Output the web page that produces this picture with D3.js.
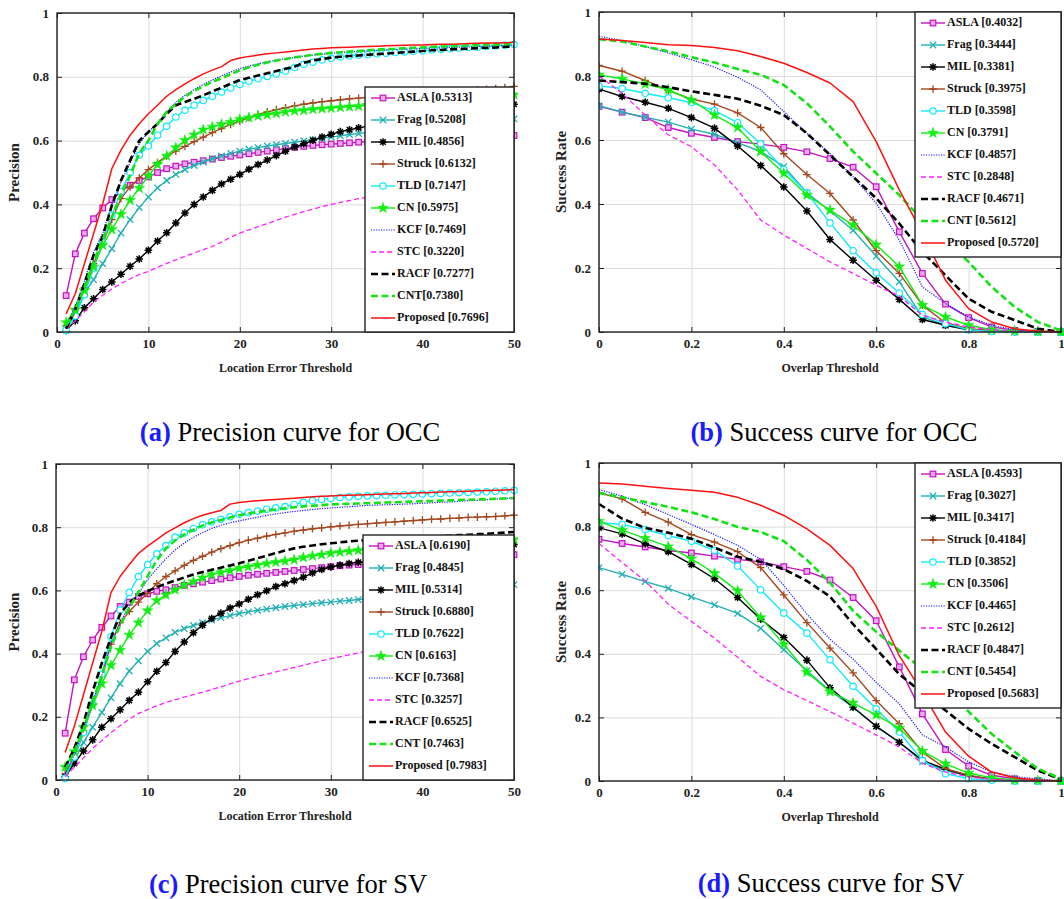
<!DOCTYPE html>
<html><head><meta charset="utf-8">
<script src="https://cdn.jsdelivr.net/npm/d3@7"></script>
<style>body{margin:0;background:#fff}svg{display:block}</style>
</head><body>
<svg id="c" width="1064" height="899"></svg>
<script>
// ---------------- data ----------------
const methods = ["ASLA","Frag","MIL","Struck","TLD","CN","KCF","STC","RACF","CNT","Proposed"];
const precThresholds = [1,2,3,4,5,6,7,8,9,10,11,12,13,14,15,16,17,18,19,20,21,22,23,24,25,26,27,28,29,30,31,32,33,34,35,36,37,38,39,40,41,42,43,44,45,46,47,48,49,50];
const succThresholds = [0,0.05,0.1,0.15,0.2,0.25,0.3,0.35,0.4,0.45,0.5,0.55,0.6,0.65,0.7,0.75,0.8,0.85,0.9,0.95,1];
const precXTicks = [0,10,20,30,40,50];
const succXTicks = [0,0.2,0.4,0.6,0.8,1];
const yTicks = [0,0.2,0.4,0.6,0.8,1];

const legendA = ["ASLA [0.5313]","Frag [0.5208]","MIL [0.4856]","Struck [0.6132]","TLD [0.7147]","CN [0.5975]","KCF [0.7469]","STC [0.3220]","RACF [0.7277]","CNT[0.7380]","Proposed [0.7696]"];
const legendB = ["ASLA [0.4032]","Frag [0.3444]","MIL [0.3381]","Struck [0.3975]","TLD [0.3598]","CN [0.3791]","KCF [0.4857]","STC [0.2848]","RACF [0.4671]","CNT [0.5612]","Proposed [0.5720]"];
const legendC = ["ASLA [0.6190]","Frag [0.4845]","MIL [0.5314]","Struck [0.6880]","TLD [0.7622]","CN [0.6163]","KCF [0.7368]","STC [0.3257]","RACF [0.6525]","CNT [0.7463]","Proposed [0.7983]"];
const legendD = ["ASLA [0.4593]","Frag [0.3027]","MIL [0.3417]","Struck [0.4184]","TLD [0.3852]","CN [0.3506]","KCF [0.4465]","STC [0.2612]","RACF [0.4847]","CNT [0.5454]","Proposed [0.5683]"];

// (a) precision, OCC
const pOccASLA = [0.114,0.245,0.31,0.355,0.389,0.415,0.44,0.46,0.475,0.486,0.50,0.512,0.52,0.527,0.532,0.537,0.542,0.547,0.551,0.555,0.559,0.563,0.567,0.571,0.575,0.579,0.582,0.585,0.587,0.589,0.591,0.593,0.595,0.597,0.598,0.6,0.601,0.603,0.604,0.605,0.606,0.607,0.608,0.609,0.61,0.611,0.612,0.613,0.614,0.616];
const pOccFrag = [0.01,0.057,0.12,0.164,0.214,0.261,0.31,0.352,0.39,0.423,0.452,0.475,0.494,0.509,0.522,0.533,0.543,0.552,0.56,0.567,0.573,0.578,0.583,0.587,0.591,0.595,0.599,0.603,0.607,0.611,0.615,0.619,0.622,0.626,0.629,0.632,0.635,0.638,0.641,0.644,0.647,0.649,0.652,0.654,0.657,0.659,0.661,0.664,0.666,0.668];
const pOccMIL = [0.005,0.035,0.076,0.104,0.133,0.157,0.181,0.206,0.229,0.256,0.285,0.311,0.342,0.373,0.40,0.423,0.444,0.464,0.479,0.494,0.51,0.525,0.539,0.553,0.567,0.58,0.59,0.601,0.611,0.62,0.628,0.634,0.64,0.645,0.65,0.655,0.66,0.665,0.669,0.673,0.677,0.681,0.685,0.689,0.693,0.697,0.701,0.705,0.71,0.714];
const pOccStruck = [0.02,0.07,0.14,0.214,0.277,0.352,0.418,0.455,0.483,0.509,0.531,0.552,0.567,0.582,0.597,0.611,0.625,0.638,0.651,0.661,0.672,0.682,0.69,0.697,0.703,0.709,0.714,0.718,0.722,0.725,0.728,0.731,0.733,0.735,0.737,0.739,0.741,0.743,0.745,0.747,0.749,0.751,0.753,0.755,0.757,0.759,0.761,0.763,0.766,0.77];
const pOccTLD = [0.005,0.05,0.117,0.2,0.28,0.366,0.44,0.50,0.554,0.583,0.617,0.645,0.674,0.695,0.711,0.726,0.739,0.752,0.765,0.776,0.786,0.794,0.801,0.809,0.818,0.829,0.839,0.846,0.853,0.858,0.862,0.865,0.868,0.87,0.872,0.874,0.876,0.878,0.88,0.882,0.884,0.886,0.888,0.89,0.892,0.893,0.895,0.897,0.899,0.901];
const pOccCN = [0.03,0.07,0.13,0.204,0.272,0.321,0.369,0.413,0.451,0.489,0.525,0.552,0.578,0.601,0.618,0.634,0.643,0.651,0.658,0.667,0.672,0.677,0.681,0.685,0.69,0.693,0.695,0.698,0.70,0.702,0.704,0.706,0.708,0.711,0.713,0.715,0.717,0.719,0.721,0.723,0.725,0.727,0.729,0.731,0.733,0.735,0.737,0.739,0.741,0.744];
const pOccKCF = [0.02,0.08,0.16,0.25,0.31,0.40,0.47,0.53,0.59,0.627,0.655,0.69,0.72,0.742,0.76,0.776,0.79,0.803,0.815,0.826,0.834,0.841,0.847,0.852,0.857,0.861,0.865,0.868,0.871,0.874,0.876,0.878,0.88,0.882,0.883,0.885,0.886,0.887,0.888,0.889,0.89,0.891,0.892,0.893,0.894,0.895,0.896,0.897,0.898,0.90];
const pOccSTC = [0.01,0.035,0.063,0.094,0.115,0.135,0.152,0.167,0.18,0.19,0.203,0.215,0.226,0.237,0.248,0.258,0.268,0.282,0.297,0.31,0.32,0.33,0.34,0.35,0.36,0.369,0.377,0.385,0.393,0.40,0.406,0.412,0.418,0.423,0.428,0.432,0.436,0.44,0.443,0.446,0.449,0.452,0.455,0.457,0.459,0.461,0.463,0.465,0.467,0.47];
const pOccRACF = [0.01,0.07,0.15,0.24,0.30,0.397,0.475,0.538,0.60,0.627,0.653,0.684,0.711,0.721,0.731,0.742,0.754,0.766,0.778,0.79,0.797,0.804,0.811,0.818,0.825,0.832,0.844,0.851,0.856,0.86,0.863,0.865,0.867,0.869,0.871,0.873,0.875,0.877,0.879,0.881,0.883,0.884,0.886,0.887,0.888,0.89,0.891,0.892,0.894,0.895];
const pOccCNT = [0.02,0.07,0.14,0.22,0.29,0.36,0.43,0.49,0.56,0.60,0.652,0.69,0.715,0.738,0.756,0.771,0.784,0.796,0.808,0.82,0.83,0.838,0.845,0.851,0.856,0.861,0.865,0.869,0.872,0.875,0.877,0.879,0.881,0.883,0.885,0.887,0.888,0.89,0.891,0.892,0.894,0.895,0.896,0.897,0.898,0.899,0.9,0.901,0.902,0.904];
const pOccProposed = [0.057,0.12,0.214,0.308,0.402,0.512,0.57,0.617,0.653,0.684,0.711,0.739,0.76,0.778,0.794,0.809,0.821,0.832,0.851,0.859,0.864,0.868,0.872,0.875,0.878,0.881,0.884,0.887,0.889,0.891,0.892,0.893,0.894,0.895,0.896,0.897,0.898,0.899,0.9,0.9,0.901,0.902,0.902,0.903,0.904,0.905,0.906,0.906,0.907,0.908];

// (b) success, OCC
const sOccASLA = [0.705,0.687,0.67,0.639,0.621,0.608,0.595,0.587,0.577,0.563,0.542,0.515,0.454,0.313,0.183,0.087,0.045,0.016,0.005,0.002,0];
const sOccFrag = [0.707,0.687,0.671,0.656,0.634,0.618,0.592,0.564,0.517,0.435,0.378,0.318,0.237,0.157,0.047,0.021,0.007,0.003,0.001,0,0];
const sOccMIL = [0.759,0.736,0.718,0.699,0.67,0.637,0.581,0.52,0.453,0.378,0.289,0.224,0.162,0.102,0.039,0.021,0.007,0.003,0.001,0,0];
const sOccStruck = [0.833,0.815,0.786,0.755,0.728,0.712,0.685,0.639,0.557,0.492,0.433,0.35,0.254,0.183,0.084,0.028,0.01,0.004,0.001,0,0];
const sOccTLD = [0.769,0.761,0.746,0.732,0.717,0.692,0.654,0.588,0.508,0.435,0.341,0.254,0.185,0.122,0.055,0.026,0.007,0.002,0,0,0];
const sOccCN = [0.804,0.791,0.775,0.757,0.725,0.678,0.639,0.564,0.496,0.428,0.381,0.334,0.273,0.204,0.084,0.047,0.021,0.007,0.003,0.001,0];
const sOccKCF = [0.924,0.911,0.892,0.872,0.851,0.828,0.796,0.757,0.689,0.621,0.558,0.485,0.402,0.287,0.141,0.089,0.047,0.021,0.007,0.002,0];
const sOccSTC = [0.80,0.746,0.678,0.616,0.579,0.522,0.444,0.35,0.303,0.261,0.219,0.183,0.146,0.112,0.052,0.031,0.016,0.007,0.002,0,0];
const sOccRACF = [0.786,0.781,0.776,0.765,0.752,0.741,0.729,0.707,0.678,0.621,0.553,0.485,0.418,0.339,0.25,0.177,0.104,0.063,0.037,0.01,0];
const sOccCNT = [0.915,0.908,0.892,0.877,0.859,0.842,0.822,0.804,0.772,0.715,0.642,0.564,0.496,0.428,0.35,0.287,0.219,0.141,0.078,0.031,0.005];
const sOccProposed = [0.916,0.911,0.905,0.898,0.895,0.889,0.879,0.861,0.84,0.811,0.778,0.72,0.595,0.444,0.308,0.162,0.073,0.031,0.01,0.003,0];

// (c) precision, SV
const pSvASLA = [0.148,0.317,0.39,0.443,0.483,0.519,0.549,0.563,0.581,0.589,0.597,0.602,0.609,0.616,0.621,0.626,0.631,0.636,0.64,0.644,0.648,0.651,0.654,0.657,0.66,0.663,0.666,0.669,0.672,0.675,0.678,0.68,0.682,0.684,0.686,0.688,0.69,0.692,0.694,0.695,0.697,0.699,0.7,0.702,0.703,0.705,0.707,0.709,0.711,0.713];
const pSvFrag = [0.01,0.06,0.119,0.167,0.214,0.26,0.305,0.345,0.377,0.407,0.432,0.45,0.467,0.479,0.489,0.498,0.506,0.514,0.52,0.527,0.532,0.537,0.541,0.545,0.549,0.552,0.555,0.558,0.561,0.563,0.566,0.568,0.571,0.574,0.577,0.58,0.583,0.586,0.589,0.592,0.595,0.598,0.6,0.603,0.605,0.608,0.61,0.613,0.615,0.618];
const pSvMIL = [0.01,0.052,0.092,0.127,0.167,0.194,0.222,0.252,0.278,0.311,0.344,0.372,0.407,0.437,0.466,0.49,0.511,0.528,0.544,0.557,0.572,0.586,0.599,0.612,0.621,0.631,0.642,0.655,0.666,0.674,0.68,0.685,0.689,0.692,0.695,0.699,0.702,0.705,0.708,0.711,0.714,0.717,0.72,0.723,0.726,0.729,0.732,0.736,0.74,0.745];
const pSvStruck = [0.02,0.07,0.15,0.24,0.33,0.43,0.498,0.533,0.563,0.591,0.621,0.644,0.662,0.679,0.695,0.708,0.721,0.732,0.742,0.751,0.759,0.765,0.772,0.777,0.782,0.787,0.791,0.795,0.798,0.801,0.804,0.806,0.809,0.811,0.813,0.815,0.817,0.819,0.821,0.823,0.825,0.826,0.828,0.829,0.831,0.832,0.833,0.834,0.836,0.838];
const pSvTLD = [0.005,0.073,0.15,0.24,0.335,0.453,0.538,0.593,0.644,0.682,0.716,0.742,0.769,0.782,0.796,0.808,0.817,0.825,0.833,0.841,0.846,0.851,0.857,0.861,0.865,0.872,0.879,0.884,0.888,0.891,0.894,0.896,0.898,0.899,0.9,0.901,0.902,0.903,0.904,0.905,0.906,0.907,0.908,0.909,0.91,0.911,0.912,0.914,0.915,0.917];
const pSvCN = [0.041,0.09,0.167,0.236,0.305,0.363,0.411,0.459,0.498,0.536,0.568,0.586,0.602,0.617,0.628,0.64,0.65,0.657,0.663,0.67,0.675,0.68,0.685,0.689,0.693,0.697,0.704,0.709,0.713,0.718,0.721,0.724,0.727,0.73,0.732,0.734,0.736,0.738,0.74,0.742,0.744,0.746,0.748,0.75,0.752,0.754,0.756,0.758,0.759,0.761];
const pSvKCF = [0.02,0.08,0.16,0.25,0.33,0.43,0.5,0.55,0.59,0.634,0.668,0.7,0.728,0.75,0.768,0.783,0.796,0.806,0.814,0.82,0.826,0.832,0.837,0.842,0.846,0.85,0.853,0.856,0.859,0.861,0.863,0.865,0.867,0.869,0.87,0.871,0.872,0.873,0.874,0.876,0.877,0.879,0.88,0.882,0.884,0.885,0.887,0.889,0.891,0.893];
const pSvSTC = [0.01,0.04,0.07,0.1,0.125,0.15,0.172,0.193,0.21,0.223,0.235,0.245,0.254,0.262,0.27,0.278,0.286,0.295,0.304,0.313,0.321,0.328,0.335,0.342,0.349,0.356,0.363,0.37,0.377,0.384,0.39,0.396,0.402,0.408,0.413,0.418,0.423,0.428,0.432,0.436,0.44,0.444,0.448,0.451,0.454,0.457,0.46,0.463,0.466,0.469];
const pSvRACF = [0.04,0.1,0.18,0.28,0.37,0.45,0.525,0.562,0.583,0.598,0.61,0.621,0.631,0.641,0.65,0.658,0.665,0.672,0.679,0.686,0.694,0.702,0.71,0.718,0.726,0.733,0.738,0.742,0.746,0.749,0.752,0.755,0.757,0.759,0.761,0.763,0.764,0.766,0.767,0.769,0.77,0.772,0.773,0.775,0.776,0.778,0.779,0.781,0.783,0.785];
const pSvCNT = [0.03,0.09,0.16,0.25,0.33,0.42,0.49,0.545,0.595,0.645,0.695,0.733,0.758,0.777,0.792,0.805,0.815,0.823,0.831,0.838,0.843,0.848,0.852,0.856,0.86,0.863,0.866,0.868,0.87,0.872,0.873,0.874,0.875,0.876,0.877,0.878,0.879,0.88,0.881,0.882,0.883,0.884,0.885,0.886,0.887,0.888,0.889,0.89,0.891,0.892];
const pSvProposed = [0.087,0.17,0.27,0.37,0.47,0.593,0.644,0.682,0.717,0.74,0.761,0.782,0.798,0.814,0.827,0.838,0.846,0.853,0.873,0.878,0.881,0.884,0.886,0.888,0.89,0.892,0.894,0.896,0.898,0.899,0.9,0.901,0.902,0.903,0.904,0.905,0.906,0.907,0.908,0.909,0.91,0.911,0.912,0.913,0.914,0.915,0.916,0.917,0.918,0.919];

// (d) success, SV
const sSvASLA = [0.76,0.747,0.736,0.725,0.717,0.707,0.697,0.689,0.674,0.659,0.632,0.577,0.504,0.359,0.211,0.099,0.047,0.018,0.007,0.002,0];
const sSvFrag = [0.671,0.65,0.627,0.606,0.579,0.554,0.527,0.48,0.413,0.347,0.284,0.232,0.172,0.122,0.06,0.033,0.016,0.005,0.001,0,0];
const sSvMIL = [0.796,0.777,0.746,0.721,0.681,0.636,0.577,0.509,0.451,0.38,0.293,0.232,0.172,0.122,0.065,0.037,0.016,0.006,0.002,0,0];
const sSvStruck = [0.906,0.887,0.845,0.814,0.775,0.751,0.721,0.671,0.585,0.498,0.418,0.34,0.253,0.18,0.091,0.039,0.018,0.006,0.002,0,0];
const sSvTLD = [0.812,0.807,0.791,0.772,0.754,0.725,0.676,0.601,0.528,0.465,0.381,0.298,0.227,0.154,0.065,0.023,0.007,0.002,0,0,0];
const sSvCN = [0.817,0.789,0.763,0.737,0.699,0.653,0.598,0.514,0.43,0.342,0.281,0.245,0.208,0.166,0.094,0.054,0.025,0.01,0.003,0.001,0];
const sSvKCF = [0.916,0.896,0.869,0.838,0.807,0.775,0.741,0.697,0.615,0.525,0.446,0.383,0.31,0.242,0.145,0.107,0.06,0.028,0.013,0.007,0];
const sSvSTC = [0.747,0.687,0.629,0.556,0.502,0.449,0.389,0.329,0.287,0.253,0.218,0.182,0.145,0.107,0.056,0.028,0.013,0.005,0.002,0,0];
const sSvRACF = [0.871,0.825,0.796,0.781,0.762,0.734,0.705,0.689,0.666,0.629,0.58,0.493,0.415,0.336,0.277,0.222,0.164,0.117,0.075,0.033,0.005];
const sSvCNT = [0.906,0.892,0.877,0.862,0.845,0.824,0.799,0.783,0.754,0.695,0.624,0.535,0.469,0.41,0.352,0.289,0.218,0.148,0.091,0.039,0.007];
const sSvProposed = [0.937,0.934,0.927,0.92,0.914,0.908,0.892,0.867,0.835,0.793,0.741,0.668,0.549,0.394,0.279,0.154,0.078,0.028,0.01,0.003,0];

// ---------------- styles ----------------
const styles = {
  ASLA:    {color:"#c214c2", w:1.4, marker:"square", fill:"#f0a8f0"},
  Frag:    {color:"#22b0b4", w:1.4, marker:"times"},
  MIL:     {color:"#000000", w:1.4, marker:"asterisk"},
  Struck:  {color:"#a3471f", w:1.4, marker:"plus"},
  TLD:     {color:"#10eaff", w:1.4, marker:"circle", fill:"#ffffff"},
  CN:      {color:"#11ee11", w:1.4, marker:"star"},
  KCF:     {color:"#1a1aff", w:1.2, dash:"1.2,1.3"},
  STC:     {color:"#ff22ff", w:1.3, dash:"5,3"},
  RACF:    {color:"#000000", w:2.6, dash:"7,3.5"},
  CNT:     {color:"#16e016", w:2.6, dash:"7,3.5"},
  Proposed:{color:"#ff1010", w:1.5}
};

const FONT = "'Liberation Serif','Times New Roman',Times,serif";

const panels = [
  {box:[57,13,514,332], xDomain:[0,50], xTicks:precXTicks, xs:precThresholds, fmt:d3.format("d"),
   series:[pOccASLA,pOccFrag,pOccMIL,pOccStruck,pOccTLD,pOccCN,pOccKCF,pOccSTC,pOccRACF,pOccCNT,pOccProposed],
   legend:legendA, leg:[365,87], xTitle:"Location Error Threshold", yTitle:"Precision", yTitleX:16,
   cap:"(a)", capText:" Precision curve for OCC", capX:290, capY:441},
  {box:[599,12,1061,332], xDomain:[0,1], xTicks:succXTicks, xs:succThresholds, fmt:d3.format("~g"),
   series:[sOccASLA,sOccFrag,sOccMIL,sOccStruck,sOccTLD,sOccCN,sOccKCF,sOccSTC,sOccRACF,sOccCNT,sOccProposed],
   legend:legendB, leg:[915,12], xTitle:"Overlap Threshold", yTitle:"Success Rate", yTitleX:563,
   cap:"(b)", capText:" Success curve for OCC", capX:834, capY:441},
  {box:[56,464,514,780], xDomain:[0,50], xTicks:precXTicks, xs:precThresholds, fmt:d3.format("d"),
   series:[pSvASLA,pSvFrag,pSvMIL,pSvStruck,pSvTLD,pSvCN,pSvKCF,pSvSTC,pSvRACF,pSvCNT,pSvProposed],
   legend:legendC, leg:[363,535], xTitle:"Location Error Threshold", yTitle:"Precision", yTitleX:16,
   cap:"(c)", capText:" Precision curve for SV", capX:288, capY:893},
  {box:[599,463,1061,781], xDomain:[0,1], xTicks:succXTicks, xs:succThresholds, fmt:d3.format("~g"),
   series:[sSvASLA,sSvFrag,sSvMIL,sSvStruck,sSvTLD,sSvCN,sSvKCF,sSvSTC,sSvRACF,sSvCNT,sSvProposed],
   legend:legendD, leg:[915,463], xTitle:"Overlap Threshold", yTitle:"Success Rate", yTitleX:563,
   cap:"(d)", capText:" Success curve for SV", capX:831, capY:892}
];

// ---------------- drawing ----------------
const svg = d3.select("#c");

function drawMarker(g, type, cx, cy, st){
  const s = 3.2;
  if (type === "square") {
    g.append("rect").attr("x",cx-2.8).attr("y",cy-2.8).attr("width",5.6).attr("height",5.6)
     .attr("fill",st.fill).attr("stroke",st.color).attr("stroke-width",1.2);
  } else if (type === "circle") {
    g.append("circle").attr("cx",cx).attr("cy",cy).attr("r",3.2)
     .attr("fill",st.fill).attr("stroke",st.color).attr("stroke-width",1.2);
  } else if (type === "times") {
    g.append("path").attr("d",`M${cx-s},${cy-s}L${cx+s},${cy+s}M${cx-s},${cy+s}L${cx+s},${cy-s}`)
     .attr("stroke",st.color).attr("stroke-width",1.3).attr("fill","none");
  } else if (type === "plus") {
    g.append("path").attr("d",`M${cx-3.8},${cy}H${cx+3.8}M${cx},${cy-3.8}V${cy+3.8}`)
     .attr("stroke",st.color).attr("stroke-width",1.3).attr("fill","none");
  } else if (type === "asterisk") {
    const r = 3.8, d = r*0.72;
    g.append("path").attr("d",`M${cx-r},${cy}H${cx+r}M${cx},${cy-r}V${cy+r}M${cx-d},${cy-d}L${cx+d},${cy+d}M${cx-d},${cy+d}L${cx+d},${cy-d}`)
     .attr("stroke",st.color).attr("stroke-width",1.5).attr("fill","none");
    g.append("circle").attr("cx",cx).attr("cy",cy).attr("r",2).attr("fill",st.color);
  } else if (type === "star") {
    g.append("path").attr("d", d3.symbol().type(d3.symbolStar).size(36)())
     .attr("transform",`translate(${cx},${cy})`).attr("fill",st.color).attr("stroke",st.color).attr("stroke-width",0.5);
  }
}

panels.forEach((p, pi) => {
  const [L,T,R,B] = p.box;
  const x = d3.scaleLinear().domain(p.xDomain).range([L,R]);
  const y = d3.scaleLinear().domain([0,1]).range([B,T]);
  const g = svg.append("g");

  // grid
  g.append("g").attr("transform",`translate(0,${B})`)
    .call(d3.axisBottom(x).tickValues(p.xTicks).tickSize(-(B-T)).tickFormat(""))
    .call(a=>{a.select(".domain").remove(); a.selectAll("line").attr("stroke","#dcdcdc").attr("stroke-width",1);});
  g.append("g").attr("transform",`translate(${L},0)`)
    .call(d3.axisLeft(y).tickValues(yTicks).tickSize(-(R-L)).tickFormat(""))
    .call(a=>{a.select(".domain").remove(); a.selectAll("line").attr("stroke","#dcdcdc").attr("stroke-width",1);});

  // clip
  const cid = "clip"+pi;
  svg.append("clipPath").attr("id",cid).append("rect").attr("x",L).attr("y",T-4).attr("width",R-L+4).attr("height",B-T+8);

  const lg = g.append("g").attr("clip-path",`url(#${cid})`);
  const line = d3.line().x((d,i)=>x(p.xs[i])).y(d=>y(d));
  methods.forEach((m, mi) => {
    const st = styles[m];
    const vals = p.series[mi];
    lg.append("path").datum(vals).attr("d",line).attr("fill","none")
      .attr("stroke",st.color).attr("stroke-width",st.w)
      .attr("stroke-dasharray",st.dash||null).attr("stroke-linejoin","round");
    if (st.marker) {
      const mg = lg.append("g");
      vals.forEach((v,i)=>drawMarker(mg, st.marker, x(p.xs[i]), y(v), st));
    }
  });

  // axes with inward ticks
  const tickStyle = a => {
    a.select(".domain").remove();
    a.selectAll("line").attr("stroke","#222").attr("stroke-width",1);
    a.selectAll("text").attr("font-family",FONT).attr("font-weight","bold").attr("font-size",13).attr("fill","#222");
  };
  g.append("g").attr("transform",`translate(0,${B})`)
    .call(d3.axisBottom(x).tickValues(p.xTicks).tickFormat(p.fmt).tickSizeInner(-5).tickSizeOuter(0).tickPadding(7))
    .call(tickStyle);
  g.append("g").attr("transform",`translate(0,${T})`)
    .call(d3.axisTop(x).tickValues(p.xTicks).tickFormat("").tickSizeInner(-5).tickSizeOuter(0))
    .call(tickStyle);
  g.append("g").attr("transform",`translate(${L},0)`)
    .call(d3.axisLeft(y).tickValues(yTicks).tickFormat(d3.format("~g")).tickSizeInner(-5).tickSizeOuter(0).tickPadding(8))
    .call(tickStyle);
  g.append("g").attr("transform",`translate(${R},0)`)
    .call(d3.axisRight(y).tickValues(yTicks).tickFormat("").tickSizeInner(-5).tickSizeOuter(0))
    .call(tickStyle);

  // box
  g.append("rect").attr("x",L).attr("y",T).attr("width",R-L).attr("height",B-T)
    .attr("fill","none").attr("stroke","#222").attr("stroke-width",1.4);

  // axis titles
  g.append("text").attr("x",(L+R)/2).attr("y",B+40).attr("text-anchor","middle")
    .attr("font-family",FONT).attr("font-weight","bold").attr("font-size",12).attr("fill","#222").text(p.xTitle);
  g.append("text").attr("transform",`translate(${p.yTitleX},${(T+B)/2}) rotate(-90)`).attr("text-anchor","middle")
    .attr("dominant-baseline","middle")
    .attr("font-family",FONT).attr("font-weight","bold").attr("font-size",15).attr("fill","#222").text(p.yTitle);

  // legend
  const [lx, ly] = p.leg;
  const step = 22, lh = 245;
  const leg = g.append("g");
  leg.append("rect").attr("x",lx).attr("y",ly).attr("width",R-lx).attr("height",lh)
    .attr("fill","#fff").attr("stroke","#222").attr("stroke-width",1.4);
  methods.forEach((m, mi) => {
    const st = styles[m];
    const cy = ly + 11 + step*mi;
    leg.append("line").attr("x1",lx+6).attr("x2",lx+30).attr("y1",cy).attr("y2",cy)
      .attr("stroke",st.color).attr("stroke-width",st.w).attr("stroke-dasharray",st.dash||null);
    if (st.marker) drawMarker(leg, st.marker, lx+18, cy, st);
    leg.append("text").attr("x",lx+32).attr("y",cy).attr("dominant-baseline","middle")
      .attr("font-family",FONT).attr("font-weight","bold").attr("font-size",12).attr("fill","#111")
      .text(p.legend[mi]);
  });

  // caption
  const cap = svg.append("text").attr("x",p.capX).attr("y",p.capY).attr("text-anchor","middle")
    .attr("font-family",FONT).attr("font-size",26.5).attr("fill","#000");
  cap.append("tspan").attr("font-weight","bold").attr("fill","#1a1aff").text(p.cap);
  cap.append("tspan").text(p.capText);
});
</script>
</body></html>
